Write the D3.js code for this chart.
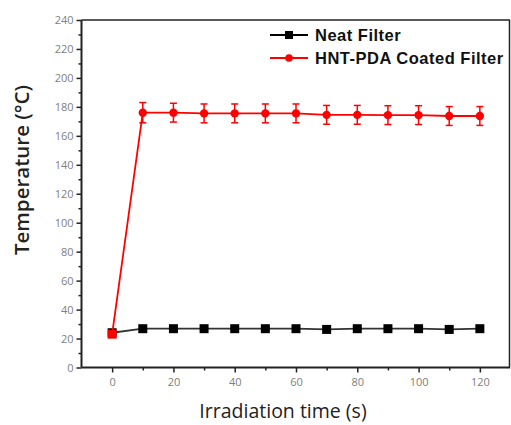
<!DOCTYPE html>
<html><head><meta charset="utf-8">
<script src="https://cdn.jsdelivr.net/npm/d3@7"></script>
<style>body{margin:0;background:#fff}svg{display:block}</style>
</head><body>
<svg id="c" width="511" height="425"></svg>
<script>
const times = [0,10,20,30,40,50,60,70,80,90,100,110,120];
const neat = [24,26.8,26.8,26.8,26.8,26.8,26.8,26.3,26.8,26.8,26.8,26.3,26.8];
const coated = [23,176,176,175.5,175.5,175.5,175.5,174.5,174.5,174.3,174.3,173.7,173.7];
const coatedErr = [0,7,6.5,6.5,6.5,6.5,6.5,6.5,6.5,6.5,6.5,6.5,6.5];
const xTicks = [0,20,40,60,80,100,120];
const yTicks = [0,20,40,60,80,100,120,140,160,180,200,220,240];
const seriesNames = ["Neat Filter","HNT-PDA Coated Filter"];

const svg = d3.select("#c");
const x = d3.scaleLinear().domain([-10,130]).range([81.5,510.5]);
const y = d3.scaleLinear().domain([0,240]).range([367.5,20]);

// frame
svg.append("line").attr("x1",81.5).attr("x2",510).attr("y1",20).attr("y2",20).attr("stroke","#222").attr("stroke-width",1.5);
svg.append("line").attr("x1",509.5).attr("x2",509.5).attr("y1",20).attr("y2",367.5).attr("stroke","#222").attr("stroke-width",1.5);

const tickFont = "'Open Sans', sans-serif";
// x axis
const gx = svg.append("g").attr("transform","translate(0,367.5)")
  .call(d3.axisBottom(x).tickValues(xTicks).tickSize(5).tickSizeOuter(0).tickPadding(6));
const gxm = svg.append("g").attr("transform","translate(0,367.5)")
  .call(d3.axisBottom(x).tickValues(d3.range(10,130,20)).tickSize(3).tickSizeOuter(0).tickFormat(""));
gxm.select(".domain").remove();
// y axis
const gy = svg.append("g").attr("transform","translate(81.5,0)")
  .call(d3.axisLeft(y).tickValues(yTicks).tickSize(5).tickSizeOuter(0).tickPadding(3));
const gym = svg.append("g").attr("transform","translate(81.5,0)")
  .call(d3.axisLeft(y).tickValues(d3.range(10,240,20)).tickSize(3).tickSizeOuter(0).tickFormat(""));
gym.select(".domain").remove();
[gx,gy,gxm,gym].forEach(g=>{
  g.selectAll(".domain").attr("stroke","#222").attr("stroke-width",2);
  g.selectAll(".tick line").attr("stroke","#222").attr("stroke-width",1.5);
  g.selectAll("text").attr("fill","#808080").style("font-family",tickFont).style("font-size","11px");
});
gx.select(".domain").attr("d","M81.5,0H510");
gy.select(".domain").attr("d","M0,367.5V20");

// titles
svg.append("text").attr("x",283).attr("y",418).attr("text-anchor","middle")
  .style("font-family","'Open Sans', sans-serif").style("font-size","19.5px").attr("fill","#222")
  .text("Irradiation time (s)");
svg.append("text").attr("transform","translate(29,170) rotate(-90)").attr("text-anchor","middle")
  .style("font-family","'Open Sans', sans-serif").style("font-size","20.5px").style("font-weight","600").attr("fill","#222")
  .text("Temperature (°C)");

const line = d3.line();
// neat series
svg.append("path").attr("d",line(times.map((t,i)=>[x(t),y(neat[i])])))
  .attr("fill","none").attr("stroke","#333").attr("stroke-width",1.8);
svg.selectAll(".nm").data(times).enter().append("rect")
  .attr("x",t=>x(t)-4.5).attr("y",(t,i)=>y(neat[i])-4.5).attr("width",9).attr("height",9).attr("fill","#000");

// coated series
svg.append("path").attr("d",line(times.map((t,i)=>[x(t),y(coated[i])])))
  .attr("fill","none").attr("stroke","#ff0000").attr("stroke-width",1.8);
const eb = svg.append("g").attr("stroke","#ff0000").attr("stroke-width",1.5);
times.forEach((t,i)=>{
  if(!coatedErr[i]) return;
  const cx = x(t), y1 = y(coated[i]+coatedErr[i]), y2 = y(coated[i]-coatedErr[i]);
  eb.append("line").attr("x1",cx).attr("x2",cx).attr("y1",y1).attr("y2",y2);
  eb.append("line").attr("x1",cx-3.5).attr("x2",cx+3.5).attr("y1",y1).attr("y2",y1);
  eb.append("line").attr("x1",cx-3.5).attr("x2",cx+3.5).attr("y1",y2).attr("y2",y2);
});
svg.selectAll(".cm").data(times).enter().append("path")
  .attr("transform",(t,i)=>`translate(${x(t)},${y(coated[i])})`)
  .attr("d",(t,i)=> i===0 ? d3.symbol(d3.symbolSquare,80)() : d3.symbol(d3.symbolCircle,55)())
  .attr("fill","#ff0000");

// legend
const leg = svg.append("g");
const legY = [35,58];
const legCol = ["#000","#ff0000"];
seriesNames.forEach((n,i)=>{
  leg.append("line").attr("x1",270).attr("x2",308).attr("y1",legY[i]).attr("y2",legY[i])
    .attr("stroke",legCol[i]).attr("stroke-width",1.8);
  leg.append("path").attr("transform",`translate(289,${legY[i]})`)
    .attr("d", i===0 ? d3.symbol(d3.symbolSquare,64)() : d3.symbol(d3.symbolCircle,45)())
    .attr("fill",legCol[i]);
  leg.append("text").attr("x",315).attr("y",legY[i]+6)
    .style("font-family","'Liberation Sans', Arial, sans-serif").style("font-size","16.5px").style("font-weight","bold")
    .style("letter-spacing","0.5px")
    .attr("fill","#111").text(n);
});
</script>
</body></html>
